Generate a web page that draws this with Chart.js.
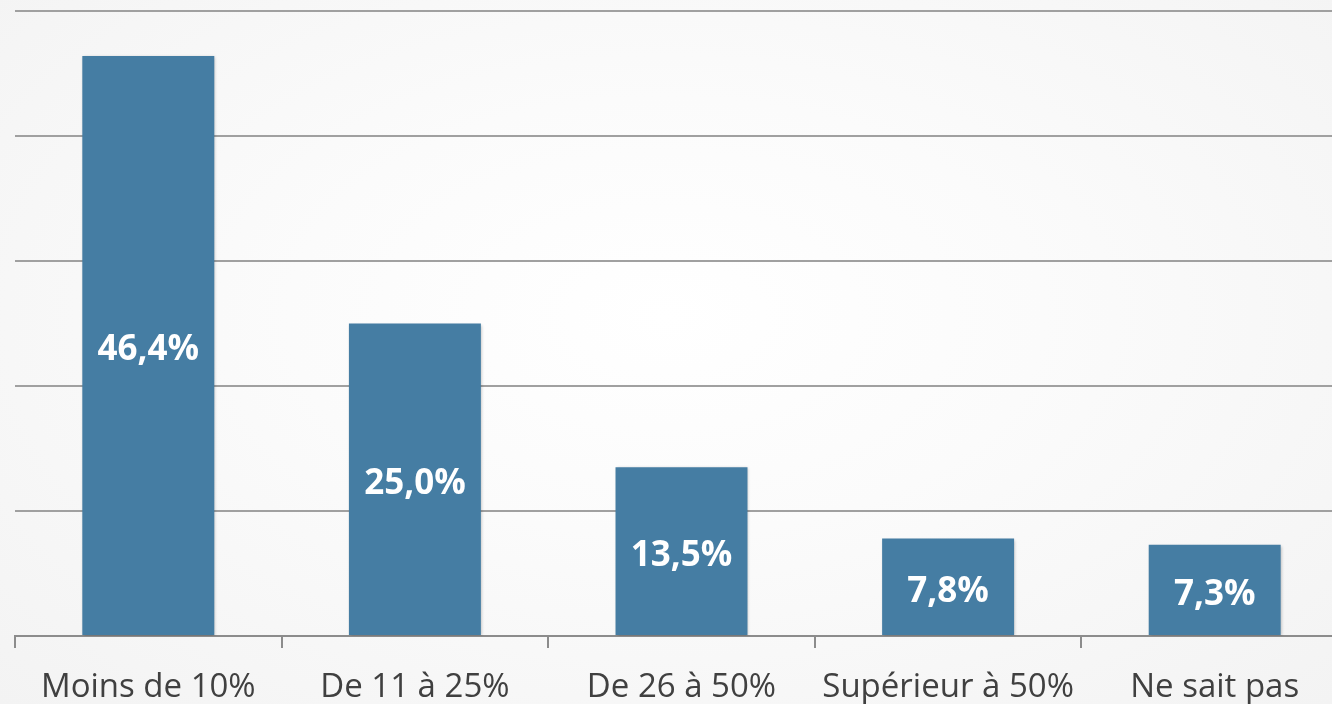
<!DOCTYPE html>
<html>
<head>
<meta charset="utf-8">
<script src="https://cdn.jsdelivr.net/npm/chart.js@4"></script>
<style>
html,body{margin:0;padding:0;width:1332px;height:704px;overflow:hidden;
background:radial-gradient(ellipse at 50% 45%, #ffffff 0%, #fbfbfb 40%, #f3f3f3 100%);}
#wrap{position:absolute;left:0;top:0;width:1348px;height:704px;}
</style>
</head>
<body>
<div id="wrap"><canvas id="c"></canvas></div>
<script>
const categories = ["Moins de 10%", "De 11 à 25%", "De 26 à 50%", "Supérieur à 50%", "Ne sait pas"];
const values = [46.4, 25.0, 13.5, 7.8, 7.3];
const valueLabels = ["46,4%", "25,0%", "13,5%", "7,8%", "7,3%"];

const labelPlugin = {
  id: 'barLabels',
  beforeDatasetDraw(chart) {
    const ctx = chart.ctx;
    ctx.save();
    ctx.shadowColor = 'rgba(0,0,0,0.25)';
    ctx.shadowBlur = 3;
    ctx.shadowOffsetX = 1;
    ctx.shadowOffsetY = 1;
  },
  afterDatasetDraw(chart) {
    chart.ctx.restore();
  },
  afterDatasetsDraw(chart) {
    const ctx = chart.ctx;
    const meta = chart.getDatasetMeta(0);
    ctx.save();
    ctx.fillStyle = '#ffffff';
    ctx.font = 'bold 35px "Open Sans", sans-serif';
    ctx.textAlign = 'center';
    ctx.textBaseline = 'middle';
    meta.data.forEach((bar, i) => {
      const y = (bar.y + bar.base) / 2 + 5;
      ctx.fillText(valueLabels[i], bar.x, y);
    });
    ctx.restore();
  }
};

new Chart(document.getElementById('c'), {
  type: 'bar',
  data: {
    labels: categories,
    datasets: [{
      data: values,
      backgroundColor: '#457da3',
      borderWidth: 0,
      categoryPercentage: 1.0,
      barPercentage: 0.495
    }]
  },
  options: {
    responsive: true,
    maintainAspectRatio: false,
    animation: false,
    layout: { padding: { top: 11, left: 0, right: 0, bottom: 0 } },
    plugins: { legend: { display: false }, tooltip: { enabled: false } },
    scales: {
      x: {
        grid: { offset: true, drawOnChartArea: false, drawTicks: true, tickLength: 12, color: '#8c8c8c', lineWidth: 2 },
        border: { display: true, color: '#8c8c8c', width: 2 },
        ticks: { color: '#404040', font: { family: '"Open Sans", sans-serif', size: 33 }, padding: 20, maxRotation: 0, autoSkip: false },
        afterFit(scale) { scale.height = 68; }
      },
      y: {
        min: 0, max: 50,
        ticks: { display: false, stepSize: 10 },
        border: { display: false },
        grid: { color: '#a0a0a0', lineWidth: 2, drawTicks: false },
        afterFit(scale) { scale.width = 15; }
      }
    }
  },
  plugins: [labelPlugin]
});
</script>
</body>
</html>
